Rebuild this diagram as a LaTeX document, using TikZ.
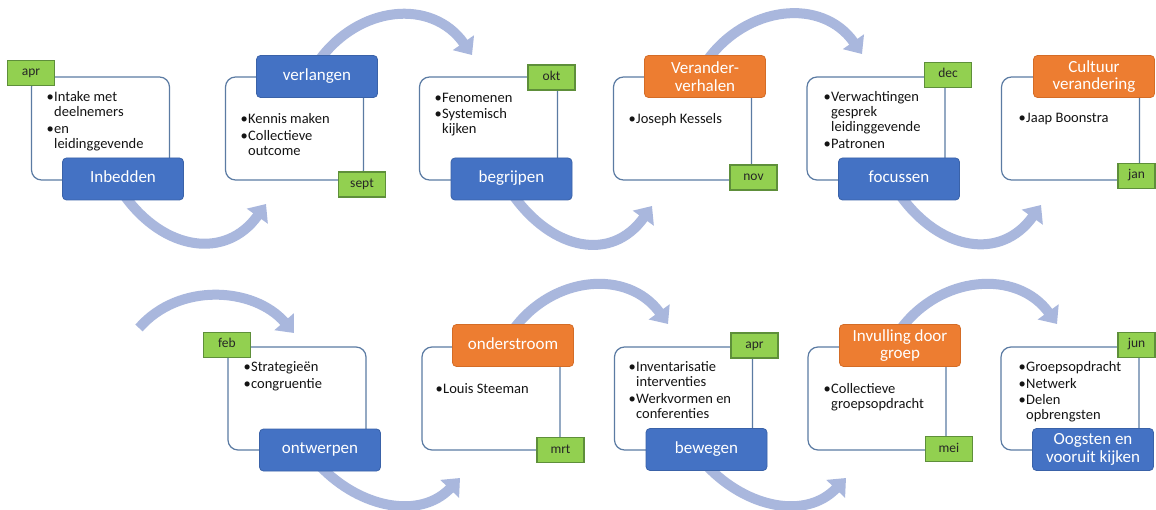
\documentclass[tikz,border=0pt]{standalone}
\usepackage{fontspec}
\setmainfont{Carlito}
\usetikzlibrary{arrows.meta}
\definecolor{blueC}{HTML}{4472C4}
\definecolor{blueD}{HTML}{3A62A8}
\definecolor{orangeC}{HTML}{ED7D31}
\definecolor{orangeD}{HTML}{D46C26}
\definecolor{greenC}{HTML}{92D050}
\definecolor{greenD}{HTML}{5E8F3A}
\definecolor{frameC}{HTML}{5B7BA3}
\definecolor{arrowC}{HTML}{A9B7DD}
\newcommand\bul{\makebox[7.5pt][l]{•}}
\newcommand\ind{\hspace*{7.5pt}}
\tikzset{
  frame/.style={draw=frameC, line width=1.2pt, rounded corners=10pt,
    minimum width=138pt, minimum height=103pt, inner sep=0pt},
  lbl/.style={rounded corners=4pt, line width=0.8pt, text=white,
    font=\fontsize{17}{17.5}\selectfont, minimum width=121pt,
    minimum height=42pt, align=center, inner sep=0pt},
  one/.style={text height=11pt, text depth=3.5pt},
  bluebox/.style={lbl, fill=blueC, draw=blueD},
  orangebox/.style={lbl, fill=orangeC, draw=orangeD},
  tag/.style={fill=greenC, draw=greenD, line width=1.3pt, minimum width=47pt,
    minimum height=25pt, inner sep=0pt, text=black!85,
    font=\fontsize{13.5}{14}\selectfont, text height=8.5pt, text depth=2.5pt},
  bullets/.style={anchor=north west, align=left, inner sep=0pt,
    text=black!92, font=\fontsize{14.5}{15}\selectfont},
  band/.style={draw=arrowC, line width=10pt,
    -{Triangle[width=25pt,length=15pt]}}
}
\begin{document}
\begin{tikzpicture}[x=1pt,y=-1pt]
\useasboundingbox[fill=white] (0,0) rectangle (1156,510);
% ---- arrow end points
\coordinate (a1s) at (124,195);  \coordinate (a1e) at (266,204);
\coordinate (a2s) at (318,62);   \coordinate (a2e) at (472,55);
\coordinate (a3s) at (513,195);  \coordinate (a3e) at (652,206);
\coordinate (a4s) at (706,62);   \coordinate (a4e) at (862,54);
\coordinate (a5s) at (900,195);  \coordinate (a5e) at (1041,205);
\coordinate (b0s) at (139,328);  \coordinate (b0e) at (294,333);
\coordinate (b1s) at (320,466);  \coordinate (b1e) at (460,478);
\coordinate (b2s) at (513,330);  \coordinate (b2e) at (668,324);
\coordinate (b3s) at (707,466);  \coordinate (b3e) at (846,478);
\coordinate (b4s) at (900,330);  \coordinate (b4e) at (1057,324);
% ---- arrows (behind everything)
\draw[band] (a1s) .. controls +(40,56) and +(-40,56) .. (a1e);
\draw[band] (a2s) .. controls +(40,-57) and +(-40,-57) .. (a2e);
\draw[band] (a3s) .. controls +(40,56) and +(-40,56) .. (a3e);
\draw[band] (a4s) .. controls +(40,-57) and +(-40,-57) .. (a4e);
\draw[band] (a5s) .. controls +(40,56) and +(-40,56) .. (a5e);
\draw[band] (b0s) .. controls +(40,-46) and +(-40,-46) .. (b0e);
\draw[band] (b1s) .. controls +(40,42) and +(-40,42) .. (b1e);
\draw[band] (b2s) .. controls +(40,-55) and +(-40,-55) .. (b2e);
\draw[band] (b3s) .. controls +(40,42) and +(-40,42) .. (b3e);
\draw[band] (b4s) .. controls +(40,-55) and +(-40,-55) .. (b4e);
% ---- frames
\node[frame] (f1) at (100.5,128.5) {};
\node[frame] (f2) at (294.5,128.5) {};
\node[frame] (f3) at (488.5,128.5) {};
\node[frame] (f4) at (682.5,128.5) {};
\node[frame] (f5) at (876,128.5) {};
\node[frame] (f6) at (1070.5,128.5) {};
\node[frame] (f7) at (297,398.5) {};
\node[frame] (f8) at (491,398.5) {};
\node[frame] (f9) at (683.5,398.5) {};
\node[frame] (f10) at (877,398.5) {};
\node[frame] (f11) at (1070,398.5) {};
% ---- bullet texts
\node[bullets] (t1) at (46.5,91.5) {\bul Intake met\\\ind deelnemers\\[1.5pt]\bul en\\\ind leidinggevende};
\node[bullets] (t2) at (240.5,113.5) {\bul Kennis maken\\[1.5pt]\bul Collectieve\\\ind outcome};
\node[bullets] (t3) at (434.5,92.5) {\bul Fenomenen\\[1.5pt]\bul Systemisch\\\ind kijken};
\node[bullets] (t4) at (628.5,113.5) {\bul Joseph Kessels};
\node[bullets] (t5) at (823.5,91.5) {\bul Verwachtingen\\\ind gesprek\\\ind leidinggevende\\[1.5pt]\bul Patronen};
\node[bullets] (t6) at (1018.5,113.5) {\bul Jaap Boonstra};
\node[bullets] (t7) at (243.5,361.5) {\bul Strategieën\\[1.5pt]\bul congruentie};
\node[bullets] (t8) at (435.5,383.5) {\bul Louis Steeman};
\node[bullets] (t9) at (628.5,361.5) {\bul Inventarisatie\\\ind interventies\\[1.5pt]\bul Werkvormen en\\\ind conferenties};
\node[bullets] (t10) at (823.5,383.5) {\bul Collectieve\\\ind groepsopdracht};
\node[bullets] (t11) at (1018.5,361.5) {\bul Groepsopdracht\\[1.5pt]\bul Netwerk\\[1.5pt]\bul Delen\\\ind opbrengsten};
% ---- coloured boxes
\node[bluebox,one] (inbedden) at (123,179) {Inbedden};
\node[bluebox,one] (verlangen) at (317,76.5) {verlangen};
\node[bluebox,one] (begrijpen) at (511.5,179) {begrijpen};
\node[orangebox] (verander) at (705,76.5) {Verander-\\verhalen};
\node[bluebox,one] (focussen) at (899,179) {focussen};
\node[orangebox] (cultuur) at (1094,76.5) {Cultuur\\verandering};
\node[bluebox,one] (ontwerpen) at (320,450) {ontwerpen};
\node[orangebox,one] (onderstroom) at (513,345.5) {onderstroom};
\node[bluebox,one] (bewegen) at (706.5,449.5) {bewegen};
\node[orangebox] (invulling) at (900,345.5) {Invulling door\\groep};
\node[bluebox] (oogsten) at (1093,449.5) {Oogsten en\\vooruit kijken};
% ---- month tags
\node[tag] (m1) at (31,73) {apr};
\node[tag] (m2) at (362,184.5) {sept};
\node[tag] (m3) at (551.5,77.5) {okt};
\node[tag] (m4) at (753.5,177.5) {nov};
\node[tag] (m5) at (948,75) {dec};
\node[tag, minimum width=37pt] (m6) at (1136.5,176) {jan};
\node[tag] (m7) at (227,345) {feb};
\node[tag] (m8) at (560.5,450) {mrt};
\node[tag] (m9) at (754.5,345.5) {apr};
\node[tag] (m10) at (949,449) {mei};
\node[tag, minimum width=37pt] (m11) at (1136.5,345) {jun};
\end{tikzpicture}
\end{document}
